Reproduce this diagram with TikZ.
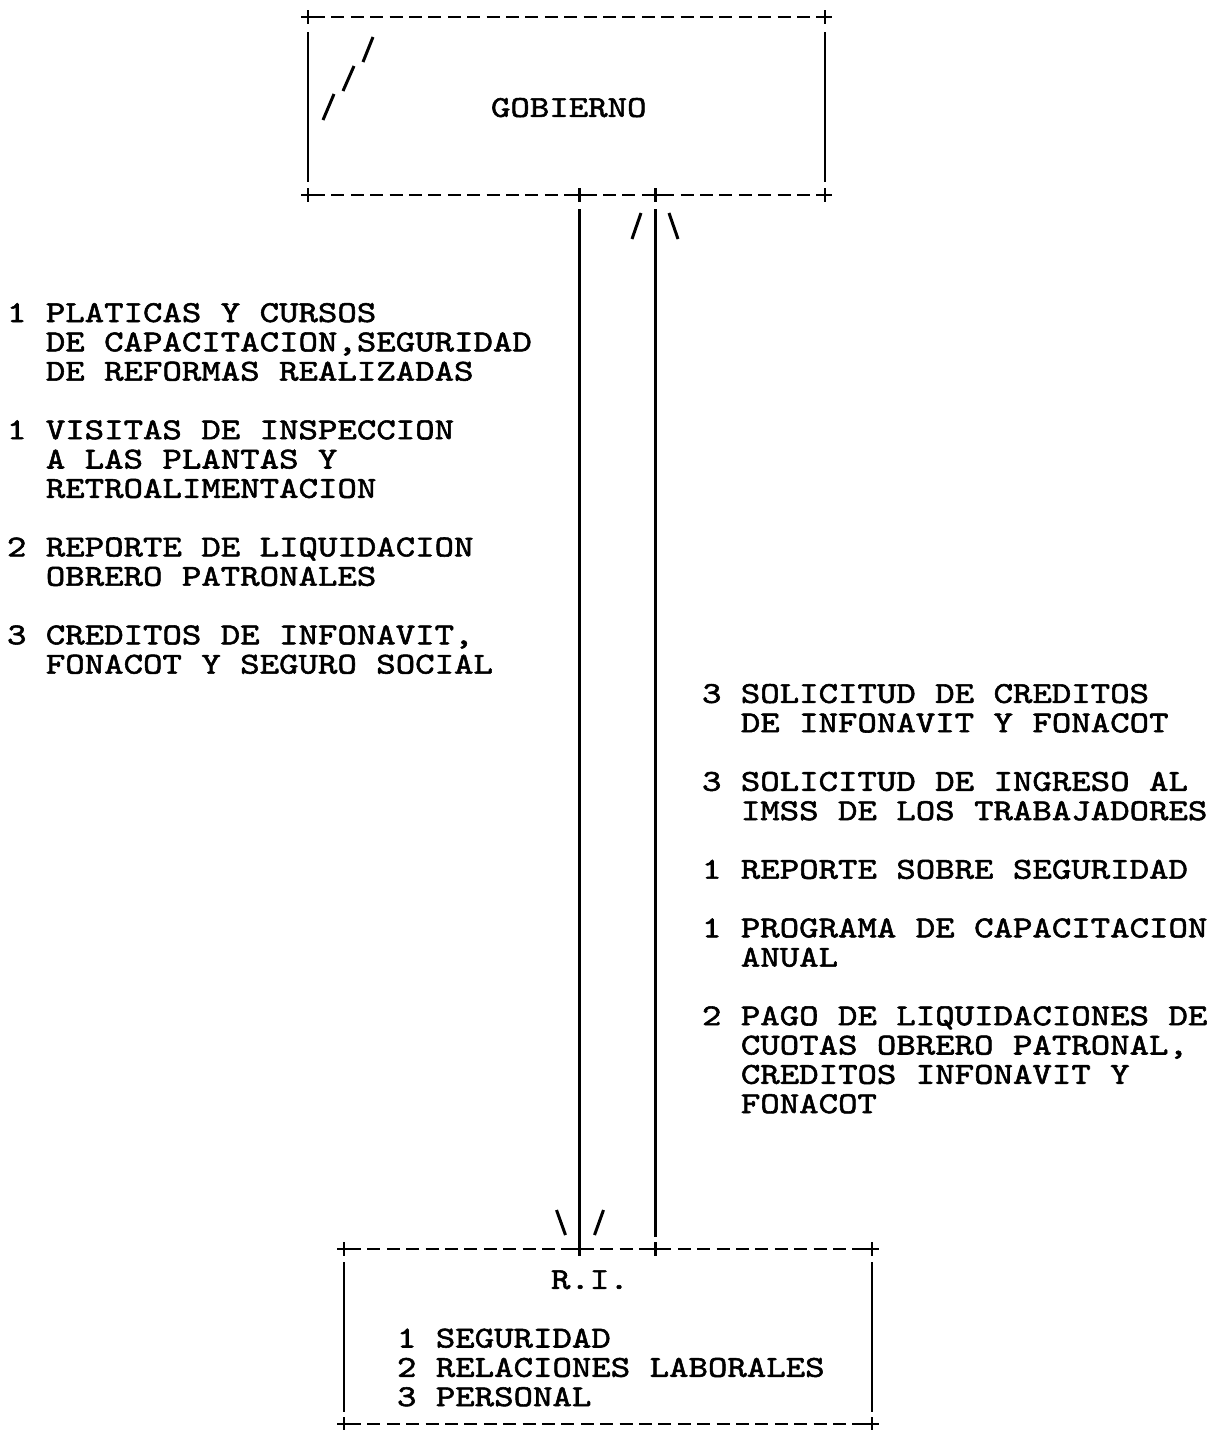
\documentclass[tikz,border=0pt]{standalone}
\usepackage{fontspec}
\usetikzlibrary{calc}
\newfontfamily\cour[Extension=.otf, FakeStretch=1.218, FakeBold=1.8]{lmmono10-regular}
\newcommand{\monofont}{\cour\fontsize{30.4}{29.3}\selectfont\spaceskip=\fontcharwd\font`M\relax\xspaceskip=\spaceskip\lineskiplimit=-100pt\relax}
\newcommand{\ind}{\hspace*{2\fontcharwd\font`M}}
\tikzset{
  txt/.style={anchor=base west, inner sep=0pt, outer sep=0pt, text width=640pt, align=flush left,
    font=\monofont},
  boxshape/.style={rectangle, inner sep=0pt, outer sep=0pt, draw=none},
  dashedge/.style={line width=2.8pt, dash pattern=on 13pt off 6.4pt, dash phase=-4pt},
  sideedge/.style={line width=2.8pt},
  flow/.style={line width=2.8pt},
  tick/.style={line width=3pt},
  plusmark/.style={line width=2.8pt}
}
\newcommand{\plusat}[1]{\draw[plusmark] ($(#1)+(-7,0)$) -- ($(#1)+(7,0)$) ($(#1)+(0,-7)$) -- ($(#1)+(0,7)$);}
\begin{document}
\begin{tikzpicture}[x=1pt,y=-1pt]
\useasboundingbox (0,0) rectangle (1218,1430);
\fill[white] (0,0) rectangle (1218,1430);

% boxes
\node[boxshape, minimum width=517pt, minimum height=178pt] (gob) at (566.5,106) {};
\node[boxshape, minimum width=528pt, minimum height=175pt] (ri) at (608,1336.5) {};

% GOBIERNO box edges
\draw[dashedge] (gob.north west) -- (gob.north east);
\draw[dashedge] (gob.south west) -- (gob.south east);
\draw[sideedge, shorten <=15pt, shorten >=13pt] (gob.north west) -- (gob.south west);
\draw[sideedge, shorten <=15pt, shorten >=13pt] (gob.north east) -- (gob.south east);
% R.I. box edges
\draw[dashedge] (ri.north west) -- (ri.north east);
\draw[dashedge] (ri.south west) -- (ri.south east);
\draw[sideedge, shorten <=13pt, shorten >=12pt] (ri.north west) -- (ri.south west);
\draw[sideedge, shorten <=13pt, shorten >=12pt] (ri.north east) -- (ri.south east);

% junction coordinates
\coordinate (g1) at ($(gob.south west)+(271.5,0)$);
\coordinate (g2) at ($(gob.south west)+(347.5,0)$);
\coordinate (r1) at ($(ri.north west)+(235.5,0)$);
\coordinate (r2) at ($(ri.north west)+(311.5,0)$);

% plus marks
\plusat{gob.north west}
\plusat{gob.north east}
\plusat{gob.south west}
\plusat{gob.south east}
\plusat{g1}
\plusat{g2}
\plusat{ri.north west}
\plusat{ri.north east}
\plusat{ri.south west}
\plusat{ri.south east}
\plusat{r1}
\plusat{r2}

% connectors
\draw[flow, shorten <=14pt] (g1) -- (r1);
\draw[flow, shorten <=14pt, shorten >=12pt] (g2) -- (r2);

% arrowheads (ASCII style)
\draw[tick] ($(g2)+(-14.5,18)$) -- ($(g2)+(-23.5,44)$);
\draw[tick] ($(g2)+(13.5,18)$) -- ($(g2)+(22.5,44)$);
\draw[tick] ($(r1)+(-23,-39)$) -- ($(r1)+(-14,-14)$);
\draw[tick] ($(r1)+(24,-39)$) -- ($(r1)+(15,-14)$);

% slashes inside GOBIERNO
\draw[tick] (373,37) -- (363,62);
\draw[tick] (354,66) -- (343,91);
\draw[tick] (334,94) -- (323,120);

% texts
\node[txt] (tgob) at (491,116.9) {GOBIERNO};
\node[txt] (tri) at (551,1288.9) {R.I.};
\node[txt] (tlist) at (397,1347.5) {1 SEGURIDAD\\2 RELACIONES LABORALES\\3 PERSONAL};

\node[txt] (la) at (7,322) {1 PLATICAS Y CURSOS\\\ind DE CAPACITACION,SEGURIDAD\\\ind DE REFORMAS REALIZADAS};
\node[txt] (lb) at (7,439.2) {1 VISITAS DE INSPECCION\\\ind A LAS PLANTAS Y\\\ind RETROALIMENTACION};
\node[txt] (lc) at (7,556.4) {2 REPORTE DE LIQUIDACION\\\ind OBRERO PATRONALES};
\node[txt] (ld) at (7,644.3) {3 CREDITOS DE INFONAVIT,\\\ind FONACOT Y SEGURO SOCIAL};

\node[txt] (ra) at (702,702.9) {3 SOLICITUD DE CREDITOS\\\ind DE INFONAVIT Y FONACOT};
\node[txt] (rb) at (702,790.8) {3 SOLICITUD DE INGRESO AL\\\ind IMSS DE LOS TRABAJADORES};
\node[txt] (rc) at (702,878.7) {1 REPORTE SOBRE SEGURIDAD};
\node[txt] (rd) at (702,937.3) {1 PROGRAMA DE CAPACITACION\\\ind ANUAL};
\node[txt] (re) at (702,1025.2) {2 PAGO DE LIQUIDACIONES DE\\\ind CUOTAS OBRERO PATRONAL,\\\ind CREDITOS INFONAVIT Y\\\ind FONACOT};
\end{tikzpicture}
\end{document}
